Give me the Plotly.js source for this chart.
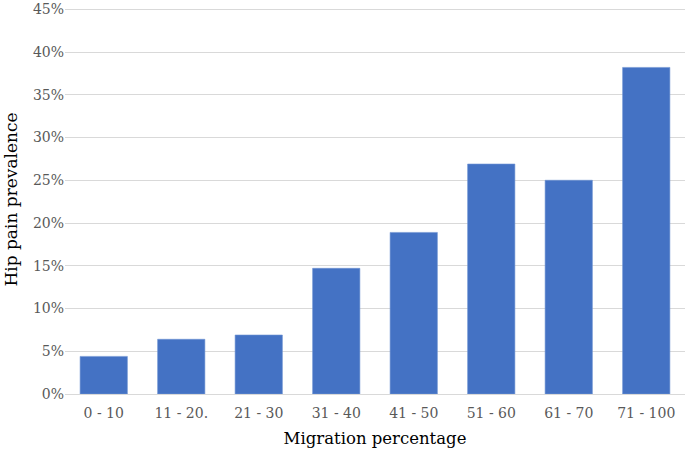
<!DOCTYPE html>
<html>
<head>
<meta charset="utf-8">
<script src="https://cdn.plot.ly/plotly-3.0.1.min.js"></script>
<style>
  html, body { margin: 0; padding: 0; background: #fff; }
  #plot { width: 685px; height: 449px; }
</style>
</head>
<body>
<div id="plot"></div>
<script>
// migration bands and hip pain prevalence (fraction)
var bands = ["0 - 10", "11 - 20.", "21 - 30", "31 - 40", "41 - 50", "51 - 60", "61 - 70", "71 - 100"];
var prevalence = [0.044, 0.064, 0.069, 0.147, 0.189, 0.269, 0.250, 0.382];
var yTicks = [0, 0.05, 0.10, 0.15, 0.20, 0.25, 0.30, 0.35, 0.40, 0.45];

var trace = {
    x: bands,
    y: prevalence,
    type: 'bar',
    marker: { color: '#4472C4', line: { color: '#6f93d3', width: 0.6 } },
    hoverinfo: 'none'
};

var layout = {
    width: 685,
    height: 449,
    margin: { l: 65, r: 0, t: 5, b: 55 },
    paper_bgcolor: '#fff',
    plot_bgcolor: '#fff',
    bargap: 0.39,
    showlegend: false,
    font: { family: 'DejaVu Serif, serif', color: '#595959' },
    xaxis: {
        tickfont: { size: 14, color: '#595959' },
        ticklabelstandoff: 6,
        showgrid: false,
        showline: true,
        linecolor: '#d9d9d9',
        linewidth: 1,
        ticks: '',
        title: { text: 'Migration percentage', font: { size: 16.5, color: '#000' }, standoff: 12 }
    },
    yaxis: {
        range: [0, 0.455],
        tickvals: yTicks,
        tickformat: '.0%',
        tickfont: { size: 14, color: '#595959' },
        ticklabeloverflow: 'allow',
        gridcolor: '#d9d9d9',
        gridwidth: 1,
        zeroline: false,
        ticks: '',
        ticklen: 0,
        title: { text: 'Hip pain prevalence', font: { size: 17, color: '#000' }, standoff: 10 }
    }
};

Plotly.newPlot('plot', [trace], layout, { staticPlot: true });
</script>
</body>
</html>
